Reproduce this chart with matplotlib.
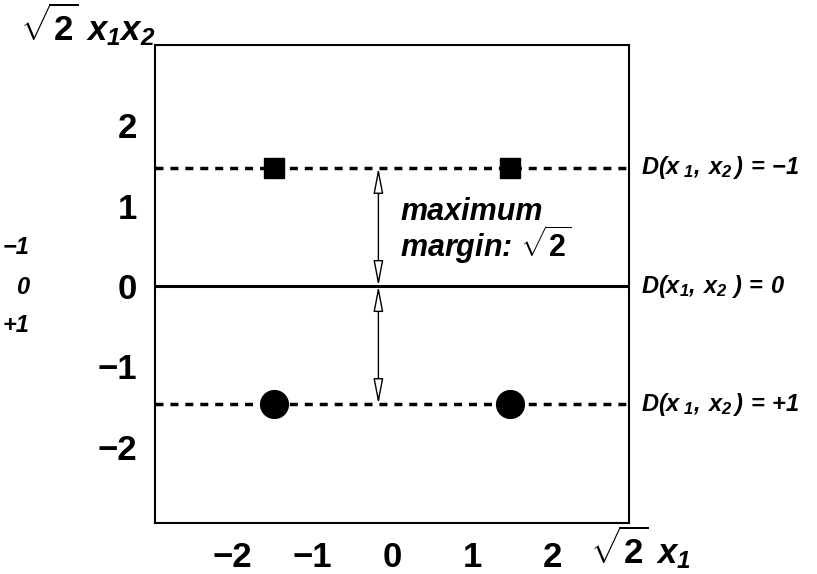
import matplotlib
matplotlib.use("Agg")
import matplotlib.pyplot as plt

plt.rcParams['font.family'] = ['Liberation Sans', 'DejaVu Sans']
plt.rcParams['font.weight'] = 'bold'
plt.rcParams['mathtext.fontset'] = 'custom'
plt.rcParams['mathtext.rm'] = 'Liberation Sans:bold:italic'
plt.rcParams['mathtext.it'] = 'Liberation Sans:bold:italic'
plt.rcParams['mathtext.bf'] = 'Liberation Sans:bold'
plt.rcParams['mathtext.sf'] = 'Liberation Sans:bold'

# data
tick_vals = [-2, -1, 0, 1, 2]
tick_labels = ["\u22122", "\u22121", "0", "1", "2"]
class_a_x = [-1.47, 1.47]      # squares, D = -1
class_a_y = [1.47, 1.47]
class_b_x = [-1.47, 1.47]      # circles, D = +1
class_b_y = [-1.47, -1.47]
margin_levels = [1.47, 0.0, -1.47]
margin_names = [r"$D(x_{\ 1},\,x_{2}\,)\,=\,{-}1$",
                r"$D(x_{1},\,x_{2}\ )\,=\,0$",
                r"$D(x_{\ 1},\,x_{2}\,)\,=\,{+}1$"]
arrow_x = -0.17
side_labels = ["\u22121", "0", "+1"]

W, H = 817, 574
fig = plt.figure(figsize=(W / 100, H / 100), dpi=100)
ax = fig.add_axes([155 / W, 1 - 523 / H, 474 / W, 478 / H])
ax.set_xlim(-2.96, 2.96)
ax.set_ylim(-2.95, 3.0)

# separating line and margins
ax.axhline(margin_levels[1], color='black', lw=2.2)
ax.axhline(margin_levels[0], color='black', lw=2.5, ls=(0, (2.3, 2.0)))
ax.axhline(margin_levels[2], color='black', lw=2.5, ls=(0, (2.3, 2.0)))

ax.plot(class_a_x, class_a_y, 's', color='black', ms=15, zorder=3)
ax.plot(class_b_x, class_b_y, 'o', color='black', ms=20, zorder=3)

# margin arrows
for y0, y1 in [(margin_levels[0], margin_levels[1]), (margin_levels[1], margin_levels[2])]:
    ax.annotate("", xy=(arrow_x, y1), xytext=(arrow_x, y0),
                arrowprops=dict(arrowstyle="<|-|>,head_length=1.3,head_width=0.25",
                                fc='white', ec='black', lw=1.0,
                                shrinkA=0, shrinkB=0, mutation_scale=12))

ax.text(0.10, 0.68, "maximum\nmargin: $\\sqrt{\\mathbf{2}}$", fontsize=22,
        fontweight='bold', style='italic', ha='left', va='center',
        linespacing=0.9)

ax.set_xticks(tick_vals)
ax.set_xticklabels(tick_labels)
ax.set_yticks(tick_vals)
ax.set_yticklabels(tick_labels)
ax.tick_params(length=0, labelsize=25, pad=13)
for lab in ax.get_xticklabels() + ax.get_yticklabels():
    lab.set_fontweight('bold')
for s in ax.spines.values():
    s.set_linewidth(1.5)

# right-hand labels
for lev, name in zip(margin_levels, margin_names):
    ax.annotate(name, xy=(1, lev), xycoords=('axes fraction', 'data'),
                xytext=(9, 0), textcoords='offset points',
                ha='left', va='center', fontsize=17, annotation_clip=False)

# axis labels
fig.text(20 / W, 1 - 40 / H, r"$\sqrt{\mathbf{2}}\ x_{1}x_{2}$", fontsize=25,
         ha='left', va='baseline')
fig.text(590 / W, 1 - 563 / H, r"$\sqrt{\mathbf{2}}\ x_{1}$", fontsize=25,
         ha='left', va='baseline')

# text at the left edge (partly cut off in the source)
for yy, s in zip([248, 287, 325], side_labels):
    fig.text(29 / W, 1 - yy / H, s, fontsize=17, fontweight='bold',
             style='italic', ha='right', va='center')

fig.savefig("out.png", dpi=100)
